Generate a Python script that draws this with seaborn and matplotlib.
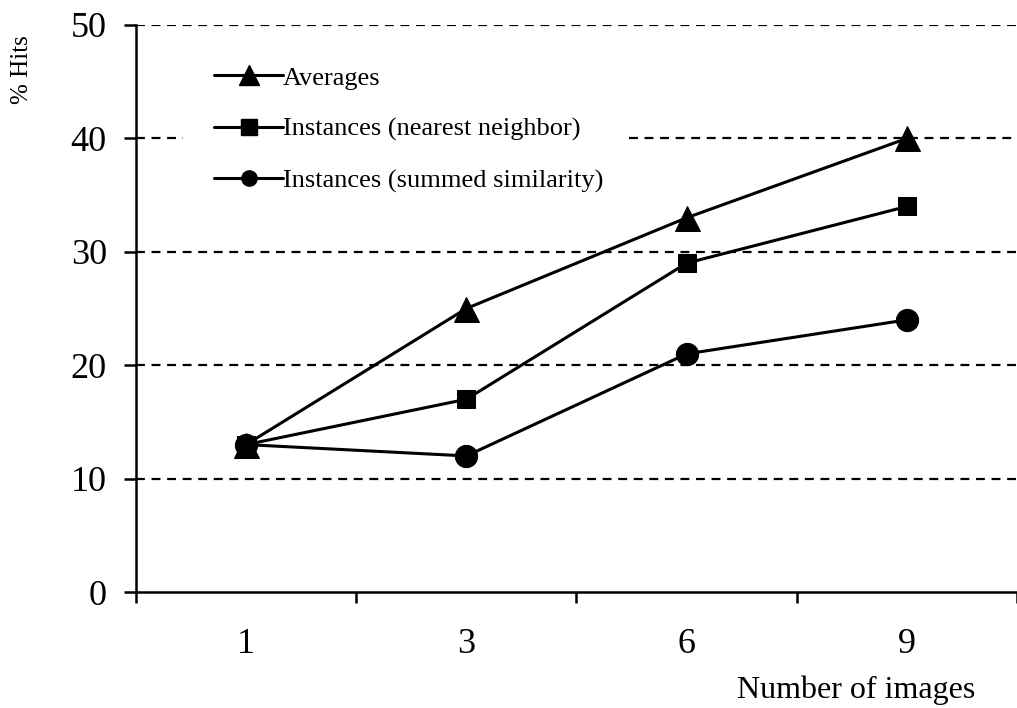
import pandas as pd
import matplotlib
matplotlib.use("Agg")
import matplotlib.pyplot as plt
import seaborn as sns
from matplotlib.lines import Line2D

# Data
images = ["1", "3", "6", "9"]
averages = [13, 25, 33, 40]
nearest = [13, 17, 29, 34]
summed = [13, 12, 21, 24]

series_names = ["Averages", "Instances (nearest neighbor)", "Instances (summed similarity)"]
series_vals = [averages, nearest, summed]
markers = ["^", "s", "o"]
plot_ms = [18, 13, 16]
legend_ms = [14, 11, 11]

sns.set_style("white")
plt.rcParams["font.family"] = ["Liberation Serif", "DejaVu Serif"]
plt.rcParams["text.color"] = "black"
plt.rcParams["xtick.color"] = "black"
plt.rcParams["ytick.color"] = "black"

fig = plt.figure(figsize=(10.17, 7.08), dpi=100)
ax = fig.add_axes([0.1337, 0.1638, 0.8663, 0.8009])

# dashed gridlines (the one at 40 is hidden behind the legend box)
for y in [10, 20, 30, 50]:
    ax.axhline(y, color="black", lw=1.6, ls=(0, (4, 3)), zorder=1)
ax.axhline(40, xmax=0.053, color="black", lw=1.6, ls=(0, (4, 3)), zorder=1)
ax.axhline(40, xmin=0.56, color="black", lw=1.6, ls=(0, (4, 3)), zorder=1)

for name, vals, m, ms in zip(series_names, series_vals, markers, plot_ms):
    df = pd.DataFrame({"images": images, "hits": vals})
    sns.lineplot(data=df, x="images", y="hits", ax=ax, color="black", lw=2.2,
                 marker=m, markersize=ms, markeredgecolor="black", sort=False, zorder=3)

ax.set_xlim(-0.5, 3.5)
ax.set_ylim(0, 50)
ax.set_yticks([0, 10, 20, 30, 40, 50])
ax.set_xticks([0, 1, 2, 3])
ax.set_xticklabels(images)
ax.set_xticks([-0.5, 0.5, 1.5, 2.5, 3.5], minor=True)
ax.tick_params(axis="x", which="major", bottom=False, length=0, pad=26, labelsize=26, labelcolor="black")
ax.tick_params(axis="x", which="minor", bottom=True, length=8, width=1.8, direction="out", color="black")
ax.tick_params(axis="y", left=True, length=9, width=1.8, direction="out", pad=12, labelsize=26,
               color="black", labelcolor="black")
ax.set_xlabel("")
ax.set_ylabel("")

for side in ["top", "right"]:
    ax.spines[side].set_visible(False)
for side in ["left", "bottom"]:
    ax.spines[side].set_linewidth(1.8)
    ax.spines[side].set_color("black")

handles = [Line2D([], [], color="black", lw=2.2, marker=m, markersize=ms)
           for m, ms in zip(markers, legend_ms)]
leg = ax.legend(handles, series_names, loc="upper left", bbox_to_anchor=(0.068, 0.96),
                frameon=False, fontsize=19, handlelength=2.6, handletextpad=0.0,
                labelspacing=1.05, borderpad=0.2)
for t in leg.get_texts():
    t.set_color("black")

fig.text(0.022, 0.901, "% Hits", rotation=90, ha="center", va="center", fontsize=18)
fig.text(0.842, 0.025, "Number of images", ha="center", va="center", fontsize=23)

fig.savefig("out.png", dpi=100)
